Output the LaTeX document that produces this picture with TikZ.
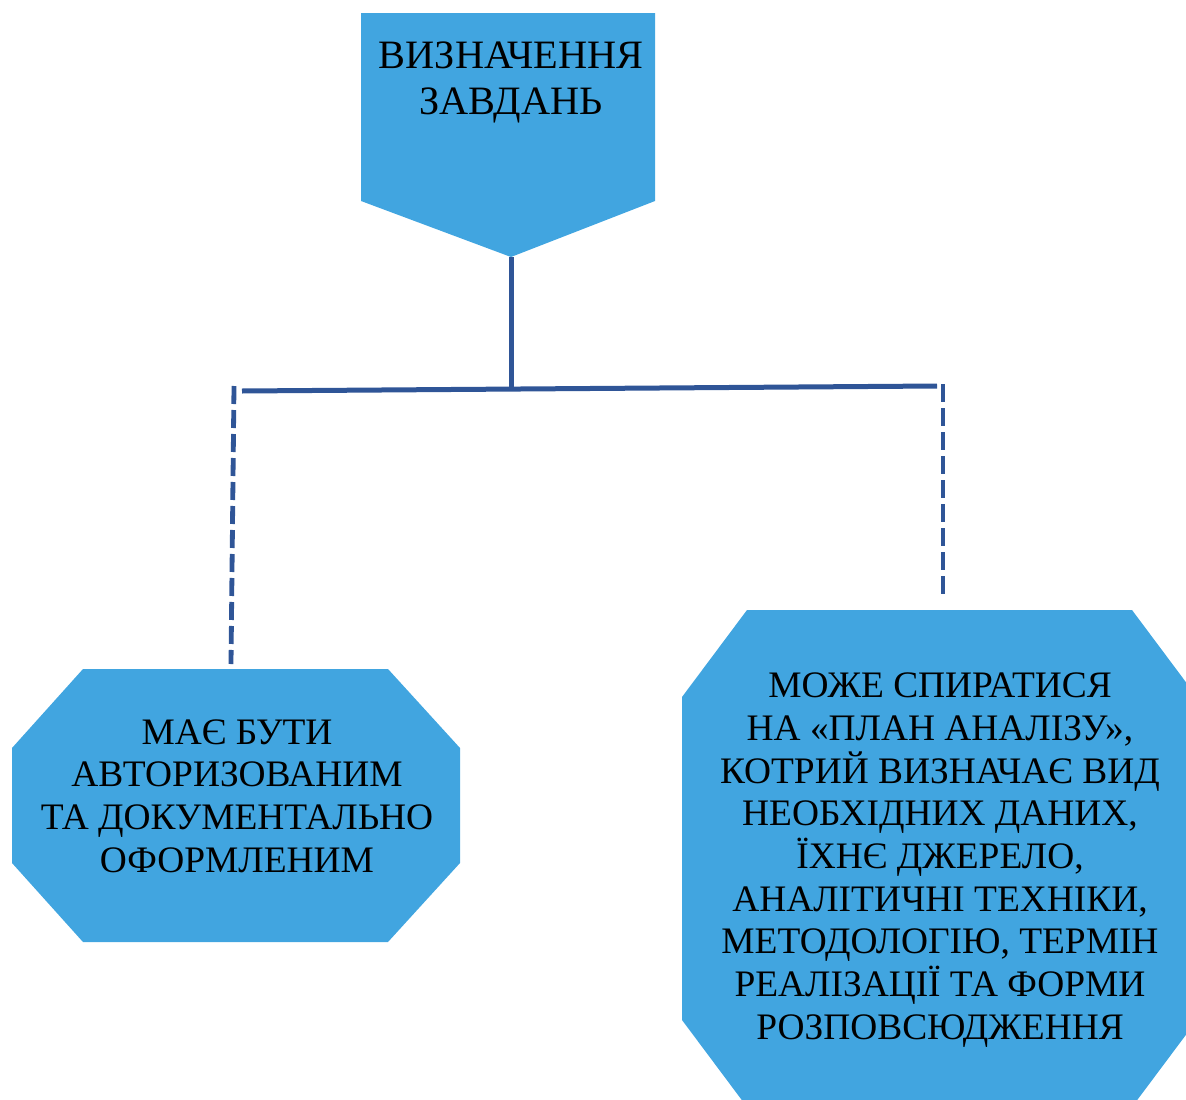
\documentclass[tikz,border=0pt]{standalone}
\usepackage{fontspec}
\setmainfont{Liberation Serif}
\definecolor{boxblue}{HTML}{41A5E0}
\definecolor{lineblue}{HTML}{2F5597}
\tikzset{
  shapefill/.style={fill=boxblue},
  boxtext/.style={align=center, inner sep=0pt, anchor=center, text=black, font=\fontsize{37.4}{42.7}\selectfont},
  toptext/.style={align=center, inner sep=0pt, anchor=center, text=black, font=\fontsize{40.3}{46}\selectfont},
  solidline/.style={draw=lineblue, line width=5pt},
  dashline/.style={draw=lineblue, line width=4.8pt, dash pattern=on 18pt off 6pt}
}
\begin{document}
\begin{tikzpicture}[x=1pt,y=-1pt]
\clip (0,0) rectangle (1186,1100);
% shapes
\fill[shapefill] (361,13) -- (655,13) -- (655,201) -- (511,257) -- (361,201) -- cycle;
\fill[shapefill] (83,669) -- (388,669) -- (460,748) -- (460,863) -- (388,942) -- (83,942) -- (12,863) -- (12,748) -- cycle;
\fill[shapefill] (747,610) -- (1132,610) -- (1197,697) -- (1197,1020) -- (1132,1107) -- (747,1107) -- (682,1020) -- (682,697) -- cycle;
% texts
\node[toptext] (top) at (511,82) {ВИЗНАЧЕННЯ\\ЗАВДАНЬ};
\node[boxtext] (left) at (237,796) {МАЄ БУТИ\\АВТОРИЗОВАНИМ\\ТА ДОКУМЕНТАЛЬНО\\ОФОРМЛЕНИМ};
\node[boxtext] (right) at (940,860) {МОЖЕ СПИРАТИСЯ\\НА «ПЛАН АНАЛІЗУ»,\\КОТРИЙ ВИЗНАЧАЄ ВИД\\НЕОБХІДНИХ ДАНИХ,\\ЇХНЄ ДЖЕРЕЛО,\\АНАЛІТИЧНІ ТЕХНІКИ,\\МЕТОДОЛОГІЮ, ТЕРМІН\\РЕАЛІЗАЦІЇ ТА ФОРМИ\\РОЗПОВСЮДЖЕННЯ};
% connector points
\coordinate (tip) at (511,257);
\coordinate (junc) at (511,389);
\coordinate (hl) at (242,391);
\coordinate (hr) at (937,386);
\coordinate (ltop) at (234,386);
\coordinate (lbot) at (231,664);
\coordinate (rtop) at (943,384);
\coordinate (rbot) at (943,599);
% connectors
\draw[solidline] (tip) -- (junc);
\draw[solidline] (hl) -- (hr);
\draw[dashline] (ltop) -- (lbot);
\draw[dashline] (rtop) -- (rbot);
\end{tikzpicture}
\end{document}
